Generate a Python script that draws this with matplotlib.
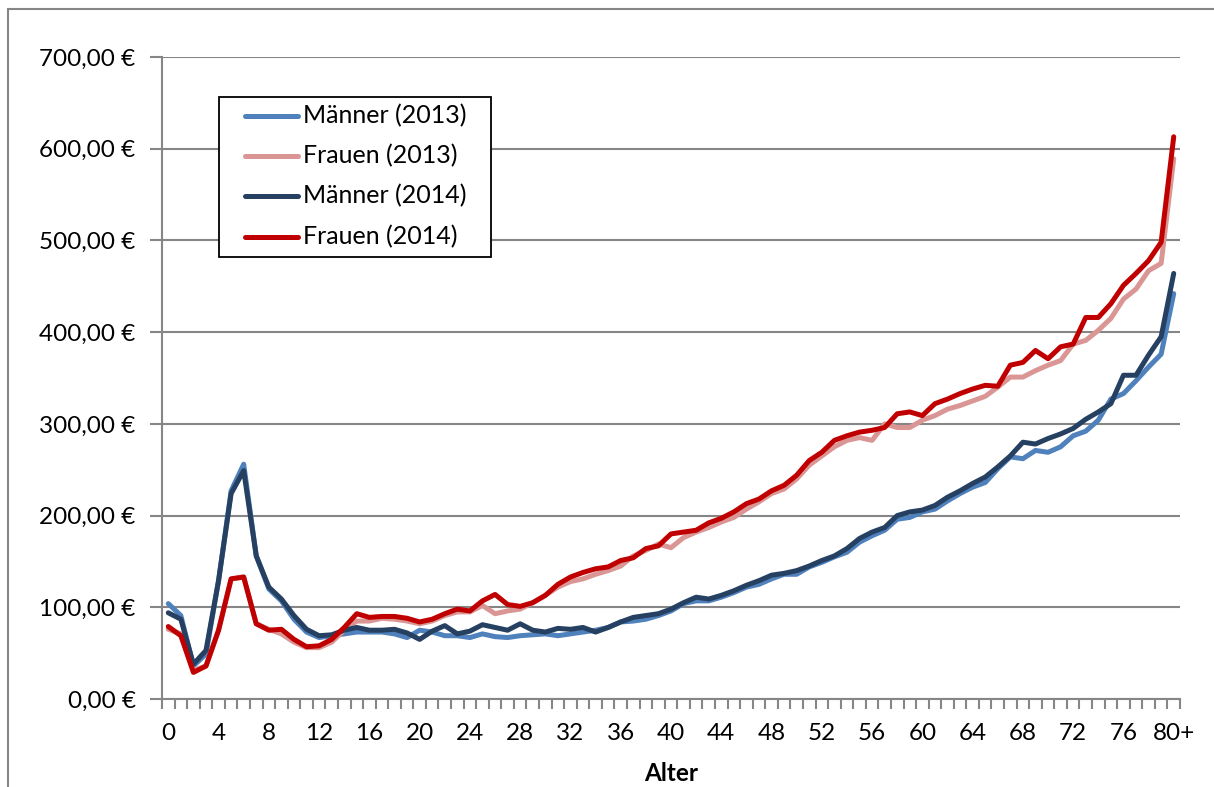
import matplotlib.pyplot as plt
from matplotlib.patches import Rectangle
from matplotlib.lines import Line2D
from matplotlib.ticker import FuncFormatter, MultipleLocator

plt.rcParams['font.family'] = ['Lato', 'DejaVu Sans']

ages = list(range(81))
age_labels = [str(a) for a in range(0, 80, 4)] + ["80+"]

maenner_2013 = [104, 91, 36, 49, 129, 227, 256, 156, 120, 107, 87, 73, 67, 69, 71, 73, 73, 73, 71, 67,
                75, 73, 69, 69, 67, 71, 68, 67, 69, 70, 71, 69, 71, 73, 75, 78, 84, 85, 87, 91,
                96, 104, 107, 107, 111, 116, 122, 125, 131, 136, 136, 144, 149, 155, 160, 171, 178, 184, 196, 198,
                204, 207, 216, 224, 231, 236, 251, 264, 262, 271, 269, 275, 287, 292, 304, 327, 333, 347, 362, 376,
                442]
frauen_2013 = [76, 71, 31, 36, 75, 131, 133, 82, 76, 71, 62, 56, 56, 62, 75, 85, 85, 88, 87, 85,
               82, 85, 91, 95, 95, 102, 93, 96, 98, 105, 113, 122, 128, 131, 136, 140, 145, 156, 162, 169,
               165, 176, 182, 187, 193, 198, 207, 215, 224, 229, 240, 255, 265, 275, 282, 285, 282, 300, 296, 296,
               304, 309, 316, 320, 325, 330, 340, 351, 351, 358, 364, 369, 387, 391, 402, 415, 436, 447, 467, 475,
               589]
maenner_2014 = [94, 87, 38, 53, 129, 224, 249, 156, 122, 109, 91, 76, 69, 70, 75, 78, 75, 75, 76, 72,
                65, 74, 80, 71, 74, 81, 78, 75, 82, 75, 73, 77, 76, 78, 73, 78, 84, 89, 91, 93,
                98, 105, 111, 109, 113, 118, 124, 129, 135, 137, 140, 145, 151, 156, 164, 175, 182, 187, 200, 204,
                206, 211, 220, 227, 235, 242, 253, 265, 280, 278, 284, 289, 295, 305, 313, 322, 353, 353, 375, 395,
                464]
frauen_2014 = [79, 69, 29, 36, 75, 131, 133, 82, 75, 76, 65, 57, 58, 65, 78, 93, 89, 90, 90, 88,
               84, 87, 93, 98, 96, 107, 114, 103, 101, 105, 113, 125, 133, 138, 142, 144, 151, 154, 164, 167,
               180, 182, 184, 192, 197, 204, 213, 218, 227, 233, 244, 260, 269, 282, 287, 291, 293, 296, 311, 313,
               309, 322, 327, 333, 338, 342, 341, 364, 367, 380, 371, 384, 387, 416, 416, 431, 451, 464, 478, 498,
               613]

series = [
    ("Männer (2013)", maenner_2013, "#4F81BD"),
    ("Frauen (2013)", frauen_2013, "#D99694"),
    ("Männer (2014)", maenner_2014, "#254061"),
    ("Frauen (2014)", frauen_2014, "#C00000"),
]

grey = "#868686"
W, H = 1214, 787

fig = plt.figure(figsize=(W / 100, H / 100), dpi=100)
ax = fig.add_axes([162 / W, 1 - 699 / H, (1180 - 162) / W, (699 - 57) / H])

# chart area border (runs off the right and bottom edge like the screenshot)
fig.patches.append(Rectangle((8 / W, -0.1), 1.2, 1 - 9 / H + 0.1, transform=fig.transFigure,
                             fill=False, edgecolor=grey, linewidth=1.5))

for name, vals, col in series:
    ax.plot(ages, vals, color=col, linewidth=3.6, label=name, solid_capstyle="round", solid_joinstyle="round")

ax.set_xlim(-0.5, 80.5)
ax.set_ylim(0, 700)
ax.yaxis.set_major_locator(MultipleLocator(100))
ax.yaxis.set_major_formatter(FuncFormatter(lambda v, p: f"{v:.2f}".replace(".", ",") + " €"))
ax.grid(axis="y", color=grey, linewidth=1.5)
ax.set_axisbelow(True)

ax.set_xticks(range(0, 81, 4))
ax.set_xticklabels(age_labels)
ax.set_xticks([i - 0.5 for i in range(82)], minor=True)
ax.tick_params(axis="x", which="major", length=0, pad=17, labelsize=17.5)
ax.tick_params(axis="x", which="minor", length=7, width=1.5, color=grey, direction="out")
ax.tick_params(axis="y", length=9, width=1.5, color=grey, pad=10, labelsize=17.5)

for s in ["top", "right"]:
    ax.spines[s].set_visible(False)
for s in ["left", "bottom"]:
    ax.spines[s].set_color(grey)
    ax.spines[s].set_linewidth(1.5)

ax.set_xlabel("Alter", fontsize=17.5, fontweight="bold", labelpad=13)

# legend box drawn by hand to match the Excel layout
fig.patches.append(Rectangle((219 / W, 1 - 257 / H), (491 - 219) / W, (257 - 97) / H,
                             transform=fig.transFigure, facecolor="white", edgecolor="black",
                             linewidth=1.3, zorder=5))
row_y = [116, 156, 196, 237]
for (name, vals, col), yy in zip(series, row_y):
    fy = 1 - yy / H
    fig.lines.append(Line2D([245 / W, 298 / W], [fy, fy], transform=fig.transFigure, color=col,
                            linewidth=3.6, solid_capstyle="round", zorder=6))
    fig.text(303 / W, fy, name, fontsize=18, va="center", ha="left", zorder=6)

fig.savefig("out.png", dpi=100)
